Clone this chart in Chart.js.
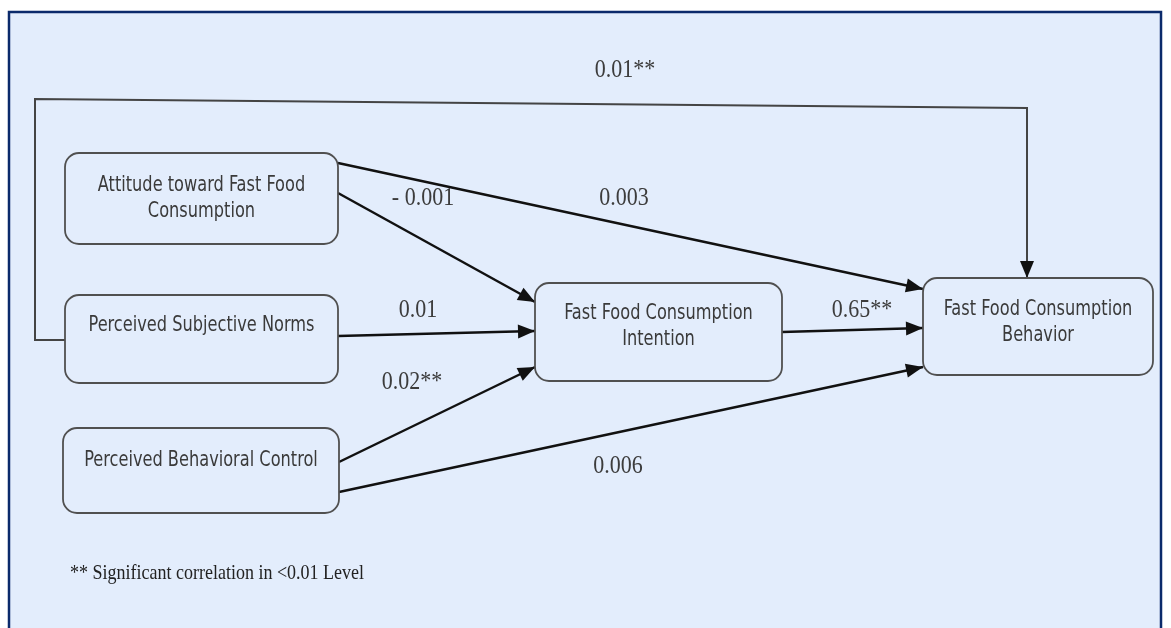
<!DOCTYPE html>
<html>
<head>
<meta charset="utf-8">
<script src="https://cdn.jsdelivr.net/npm/chart.js@4.4.1/dist/chart.umd.min.js"></script>
<style>
  html, body { margin: 0; padding: 0; background: #ffffff; }
  #wrap { width: 1171px; height: 628px; position: relative; }
</style>
</head>
<body>
<div id="wrap"><canvas id="diagram"></canvas></div>
<script>
// --- data ---
const nodeLabels = [
  ["Attitude toward Fast Food", "Consumption"],
  ["Perceived Subjective Norms"],
  ["Perceived Behavioral Control"],
  ["Fast Food Consumption", "Intention"],
  ["Fast Food Consumption", "Behavior"]
]
const pathFrom = [0, 0, 1, 2, 2, 3]
const pathTo = [3, 4, 3, 3, 4, 4]
const pathCoefficients = ["- 0.001", "0.003", "0.01", "0.02**", "0.006", "0.65**"]
const feedbackFrom = 1
const feedbackTo = 4
const feedbackCoefficient = "0.01**"
const footnote = "** Significant correlation in <0.01 Level"

// --- layout (diagram units, same size as the page) ---
const boxLayout = [
  {x0: 65, y0: 153, x1: 338, y1: 244, textY: 185},
  {x0: 65, y0: 295, x1: 338, y1: 383, textY: 325},
  {x0: 63, y0: 428, x1: 339, y1: 513, textY: 460},
  {x0: 535, y0: 283, x1: 782, y1: 381, textY: 313},
  {x0: 923, y0: 278, x1: 1153, y1: 375, textY: 309}
]
// start y on the source box, end y on the target box, label centre
const pathLayout = [
  {sy: 193, ey: 302, lx: 423, ly: 198},
  {sy: 163, ey: 289, lx: 624, ly: 198},
  {sy: 336, ey: 331, lx: 418, ly: 310},
  {sy: 462, ey: 367, lx: 412, ly: 382},
  {sy: 492, ey: 367, lx: 618, ly: 466},
  {sy: 332, ey: 328, lx: 862, ly: 310}
]
const feedbackLayout = {sy: 340, leftX: 35, topLeftY: 99, topRightY: 108, rightX: 1027, lx: 625, ly: 70}
const footnoteLayout = {x: 70, y: 574}

const boxFont = '18px "DejaVu Sans Condensed", "Liberation Sans Narrow", sans-serif'
const numFont = '22px "Liberation Serif", "Times New Roman", serif'

function arrowHead(ctx, x1, y1, x2, y2){
    const ang = Math.atan2(y2 - y1, x2 - x1)
    const len = 17, half = 7
    ctx.beginPath()
    ctx.moveTo(x2, y2)
    ctx.lineTo(x2 - len * Math.cos(ang) + half * Math.sin(ang), y2 - len * Math.sin(ang) - half * Math.cos(ang))
    ctx.lineTo(x2 - len * Math.cos(ang) - half * Math.sin(ang), y2 - len * Math.sin(ang) + half * Math.cos(ang))
    ctx.closePath()
    ctx.fill()
}

function stretchedText(ctx, text, x, y, k){
    ctx.save()
    ctx.translate(x, y)
    ctx.scale(1, k || 1.15)
    ctx.fillText(text, 0, 0)
    ctx.restore()
}

const diagramPlugin = {
    id: "pathDiagram",
    beforeDraw(chart){
        const ctx = chart.ctx
        const sx = chart.scales.x, sy = chart.scales.y
        const X = v => sx.getPixelForValue(v)
        const Y = v => sy.getPixelForValue(v)
        ctx.save()
        ctx.fillStyle = "#e3edfc"
        ctx.fillRect(X(9), Y(12), X(1161) - X(9), Y(628) - Y(12))
        ctx.strokeStyle = "#0b2a6b"
        ctx.lineWidth = 2.5
        ctx.beginPath()
        ctx.moveTo(X(9), Y(640))
        ctx.lineTo(X(9), Y(12))
        ctx.lineTo(X(1161), Y(12))
        ctx.lineTo(X(1161), Y(640))
        ctx.stroke()
        ctx.restore()
    },
    afterDatasetsDraw(chart){
        const ctx = chart.ctx
        const sx = chart.scales.x, sy = chart.scales.y
        const X = v => sx.getPixelForValue(v)
        const Y = v => sy.getPixelForValue(v)
        ctx.save()

        // feedback path
        const fb = feedbackLayout
        const src = boxLayout[feedbackFrom], dst = boxLayout[feedbackTo]
        ctx.strokeStyle = "#444"
        ctx.fillStyle = "#111"
        ctx.lineWidth = 2
        ctx.beginPath()
        ctx.moveTo(X(src.x0), Y(fb.sy))
        ctx.lineTo(X(fb.leftX), Y(fb.sy))
        ctx.lineTo(X(fb.leftX), Y(fb.topLeftY))
        ctx.lineTo(X(fb.rightX), Y(fb.topRightY))
        ctx.lineTo(X(fb.rightX), Y(dst.y0))
        ctx.stroke()
        arrowHead(ctx, X(fb.rightX), Y(dst.y0 - 20), X(fb.rightX), Y(dst.y0))

        // paths
        ctx.strokeStyle = "#111"
        ctx.lineWidth = 2.5
        pathFrom.forEach((f, i) => {
            const a = boxLayout[f], b = boxLayout[pathTo[i]], p = pathLayout[i]
            const x1 = X(a.x1), y1 = Y(p.sy), x2 = X(b.x0), y2 = Y(p.ey)
            ctx.beginPath()
            ctx.moveTo(x1, y1)
            ctx.lineTo(x2, y2)
            ctx.stroke()
            arrowHead(ctx, x1, y1, x2, y2)
        })

        // boxes
        ctx.strokeStyle = "#505050"
        ctx.lineWidth = 1.8
        ctx.fillStyle = "#e3edfc"
        boxLayout.forEach(b => {
            ctx.beginPath()
            ctx.roundRect(X(b.x0), Y(b.y0), X(b.x1) - X(b.x0), Y(b.y1) - Y(b.y0), 14)
            ctx.fill()
            ctx.stroke()
        })
        ctx.fillStyle = "#3a3a3a"
        ctx.font = boxFont
        ctx.textAlign = "center"
        ctx.textBaseline = "middle"
        nodeLabels.forEach((lines, i) => {
            const b = boxLayout[i]
            lines.forEach((t, j) => stretchedText(ctx, t, X((b.x0 + b.x1) / 2), Y(b.textY + j * 26), 1.2))
        })

        // coefficients
        ctx.fillStyle = "#3c3c3c"
        ctx.font = numFont
        pathCoefficients.forEach((c, i) => stretchedText(ctx, c, X(pathLayout[i].lx), Y(pathLayout[i].ly)))
        stretchedText(ctx, feedbackCoefficient, X(fb.lx), Y(fb.ly))

        // footnote
        ctx.fillStyle = "#222"
        ctx.font = '18px "Liberation Serif", "Times New Roman", serif'
        ctx.textAlign = "left"
        stretchedText(ctx, footnote, X(footnoteLayout.x), Y(footnoteLayout.y))
        ctx.restore()
    }
}

const nodeCentres = boxLayout.map(b => ({x: (b.x0 + b.x1) / 2, y: (b.y0 + b.y1) / 2}))

new Chart(document.getElementById("diagram"), {
    type: "scatter",
    data: {
        datasets: [{
            label: "constructs",
            data: nodeCentres,
            pointRadius: 0
        }]
    },
    options: {
        responsive: true,
        maintainAspectRatio: false,
        animation: false,
        layout: { padding: 0 },
        plugins: { legend: { display: false }, tooltip: { enabled: false } },
        scales: {
            x: { type: "linear", min: 0, max: 1171, display: false },
            y: { type: "linear", min: 0, max: 628, reverse: true, display: false }
        }
    },
    plugins: [diagramPlugin]
})
</script>
</body>
</html>
